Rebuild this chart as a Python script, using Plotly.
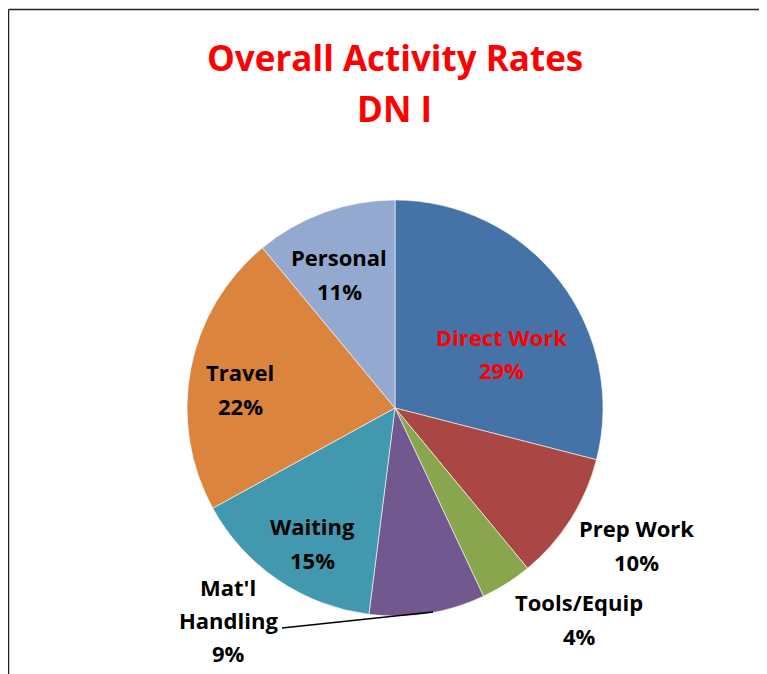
import plotly.graph_objects as go

W, H = 767, 674
OX, OY = 8, 8  # page body margin offset

# ---- data ----
categories = ["Direct Work", "Prep Work", "Tools/Equip", "Mat'l Handling", "Waiting", "Travel", "Personal"]
values = [29, 10, 4, 9, 15, 22, 11]
colors = ["#4572A7", "#AA4643", "#89A54E", "#71588F", "#4198AF", "#DB843D", "#93A9CF"]

# label placement (pixel centres of each text line in the screenshot)
label_lines = {
    "Direct Work": [("Direct Work", 501, 337), ("{p}%", 501, 370)],
    "Prep Work": [("Prep Work", 636, 528), ("{p}%", 636, 562)],
    "Tools/Equip": [("Tools/Equip", 579, 602), ("{p}%", 579, 636)],
    "Mat'l Handling": [("Mat'l", 228, 587), ("Handling", 228, 620), ("{p}%", 228, 653)],
    "Waiting": [("Waiting", 312, 526), ("{p}%", 312, 560)],
    "Travel": [("Travel", 240, 372), ("{p}%", 240, 406)],
    "Personal": [("Personal", 339, 257), ("{p}%", 339, 291)],
}

FONT = "Open Sans"
cx, cy, r = 395, 408, 208


def px(x):
    return (x - OX) / W


def py(y):
    return 1 - (y - OY) / H


fig = go.Figure(go.Pie(
    labels=categories,
    values=values,
    sort=False,
    direction="clockwise",
    rotation=0,
    marker=dict(colors=colors, line=dict(color="rgba(255,255,255,0.6)", width=1)),
    textinfo="none",
    hoverinfo="label+percent",
    showlegend=False,
    domain=dict(x=[px(cx - r), px(cx + r)], y=[py(cy + r), py(cy - r)]),
))

total = sum(values)
annotations = []
for cat, v in zip(categories, values):
    pct = round(100 * v / total)
    col = "#FF0000" if cat == "Direct Work" else "#000000"
    for txt, x, y in label_lines[cat]:
        annotations.append(dict(
            text=txt.format(p=pct), x=px(x), y=py(y), xref="paper", yref="paper",
            xanchor="center", yanchor="middle", showarrow=False,
            font=dict(family=FONT, size=22, color=col, weight="bold"),
        ))

# title lines
for txt, y in [("Overall Activity Rates", 57), ("DN I", 108)]:
    annotations.append(dict(
        text=txt, x=px(395), y=py(y), xref="paper", yref="paper",
        xanchor="center", yanchor="middle", showarrow=False,
        font=dict(family=FONT, size=35, color="#FF0000", weight="bold"),
    ))

shapes = [
    # chart frame (left and top edges visible)
    dict(type="line", xref="paper", yref="paper", x0=px(8.5), x1=1.05, y0=py(9.5), y1=py(9.5),
         line=dict(color="#222222", width=1.5)),
    dict(type="line", xref="paper", yref="paper", x0=px(8.5), x1=px(8.5), y0=py(9.5), y1=-0.05,
         line=dict(color="#222222", width=1.5)),
    # leader line for Mat'l Handling
    dict(type="line", xref="paper", yref="paper", x0=px(282), x1=px(433), y0=py(628), y1=py(612),
         line=dict(color="#000000", width=1.3)),
]

fig.update_layout(
    width=W, height=H,
    margin=dict(l=0, r=0, t=0, b=0),
    paper_bgcolor="white", plot_bgcolor="white",
    annotations=annotations, shapes=shapes,
)

fig.write_html("out.html")
